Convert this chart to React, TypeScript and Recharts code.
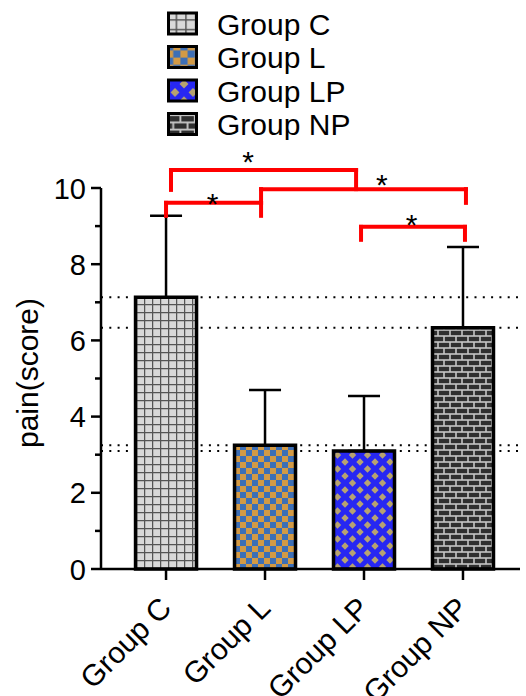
import { BarChart, Bar, Cell, XAxis, YAxis, CartesianGrid, ErrorBar, ReferenceLine, ReferenceDot } from 'recharts'

const FONT = '"Liberation Sans", Arial, sans-serif'

// groups, bar means and upper SD
const GROUPS = ['Group C', 'Group L', 'Group LP', 'Group NP']
const MEANS = [7.13, 3.25, 3.1, 6.33]
const SD = [2.14, 1.45, 1.44, 2.12]
const PATTERNS = ['patC', 'patL', 'patLP', 'patNP']
const Y_TICKS = [0, 1, 2, 3, 4, 5, 6, 7, 8, 9, 10]

// significance brackets in data units: from x1 to x2 at level y, legs down to yl / yr
const BRACKETS = [
  { x1: 0.05, x2: 1.92, y: 10.47, yl: 9.95, yr: 9.97 },
  { x1: 0.96, x2: 3.03, y: 9.97, yl: 9.27, yr: 9.61 },
  { x1: 0.0, x2: 0.96, y: 9.61, yl: 9.27, yr: 9.61 },
  { x1: 1.97, x2: 3.02, y: 8.98, yl: 8.64, yr: 8.64 },
]
const STARS = [
  { x: 0.83, y: 10.86 },
  { x: 2.18, y: 10.26 },
  { x: 0.47, y: 9.76 },
  { x: 2.48, y: 9.21 },
]

const data = GROUPS.map((name, i) => ({ x: i, name, mean: MEANS[i], err: [0, SD[i]] }))

function Patterns({ prefix = '', scale = 1 }: { prefix?: string; scale?: number }) {
  const t = `scale(${scale})`
  return (
    <defs>
      <pattern id={prefix + 'patC'} width={8} height={8} patternUnits="userSpaceOnUse" patternTransform={t}>
        <rect width={8} height={8} fill="#d9d9d9" />
        <path d="M0 0.6H8M0.6 0V8" stroke="#555" strokeWidth={1.3} />
      </pattern>
      <pattern id={prefix + 'patL'} width={12} height={12} patternUnits="userSpaceOnUse" patternTransform={t}>
        <rect width={12} height={12} fill="#d39a45" />
        <rect width={6} height={6} fill="#3d6fb6" />
        <rect x={6} y={6} width={6} height={6} fill="#3d6fb6" />
      </pattern>
      <pattern id={prefix + 'patLP'} width={15} height={14} patternUnits="userSpaceOnUse" patternTransform={t}>
        <rect width={15} height={14} fill="#2727f2" />
        <path d="M7.5 3.3L11.2 7L7.5 10.7L3.8 7Z" fill="#b7a370" />
        <path d="M0 -3.7L3.7 0L0 3.7L-3.7 0Z M15 -3.7L18.7 0L15 3.7L11.3 0Z M0 10.3L3.7 14L0 17.7L-3.7 14Z M15 10.3L18.7 14L15 17.7L11.3 14Z" fill="#b7a370" />
      </pattern>
      <pattern id={prefix + 'patNP'} width={12} height={12} patternUnits="userSpaceOnUse" patternTransform={t}>
        <rect width={12} height={12} fill="#c4c4c4" />
        <rect x={0.8} y={0.8} width={10.4} height={4.4} fill="#2f2f2f" />
        <rect x={-5.2} y={6.8} width={10.4} height={4.4} fill="#2f2f2f" />
        <rect x={6.8} y={6.8} width={10.4} height={4.4} fill="#2f2f2f" />
      </pattern>
    </defs>
  )
}

function YTick(props: any) {
  const { x, y, payload } = props
  const major = payload.value % 2 === 0
  return (
    <g>
      <line x1={x - (major ? 10 : 6)} x2={x} y1={y} y2={y} stroke="#000" strokeWidth={2.5} />
      {major && (
        <text x={x - 15} y={y + 10.5} textAnchor="end" fontSize={29} fontFamily={FONT} fill="#000">
          {payload.value}
        </text>
      )}
    </g>
  )
}

function XTick(props: any) {
  const { x, y, payload } = props
  const lx = x + 7
  const ly = y + 41
  return (
    <g>
      <line x1={x} x2={x} y1={y} y2={y + 11} stroke="#000" strokeWidth={2.5} />
      <text x={lx} y={ly} textAnchor="end" fontSize={30} fontFamily={FONT} fill="#000" transform={`rotate(-45 ${lx} ${ly})`}>
        {GROUPS[payload.value]}
      </text>
    </g>
  )
}

function YLabel() {
  return (
    <text x={27} y={373} transform="rotate(-90 27 373)" textAnchor="middle" dominantBaseline="central" fontSize={30} fontFamily={FONT} fill="#000">
      pain(score)
    </text>
  )
}

function Star(props: any) {
  const { cx, cy } = props
  return (
    <text x={cx} y={cy + 17} textAnchor="middle" fontSize={30} fontFamily={FONT} fill="#000">
      *
    </text>
  )
}

function LegendBox() {
  return (
    <svg width={230} height={140} style={{ position: 'absolute', left: 166, top: 0 }}>
      <Patterns prefix="lg" scale={1.2} />
      {GROUPS.map((g, i) => {
        const cy = 23.5 + i * 33.5
        return (
          <g key={g}>
            <rect x={2.5} y={cy - 10.5} width={28} height={21} fill={`url(#lg${PATTERNS[i]})`} stroke="#000" strokeWidth={3} />
            <text x={51} y={cy + 11} fontSize={30} fontFamily={FONT} fill="#000">
              {g}
            </text>
          </g>
        )
      })}
    </svg>
  )
}

export default function App() {
  return (
    <div style={{ position: 'absolute', left: 0, top: 0, width: 526, height: 696, background: '#fff', overflow: 'hidden' }}>
      <BarChart width={526} height={696} data={data} margin={{ top: 188, right: 6, bottom: 0, left: 0 }}>
        <Patterns />
        <CartesianGrid vertical={false} horizontalValues={MEANS} stroke="#000" strokeWidth={2} strokeDasharray="2 6.3" />
        <XAxis
          type="number"
          dataKey="x"
          domain={[-0.657, 3.576]}
          ticks={[0, 1, 2, 3]}
          allowDataOverflow
          height={127}
          tickSize={0}
          tickMargin={0}
          tickLine={false}
          tick={<XTick />}
          axisLine={{ stroke: '#000', strokeWidth: 2.5 }}
          interval={0}
        />
        <YAxis
          type="number"
          domain={[0, 10]}
          ticks={Y_TICKS}
          width={101}
          tickSize={0}
          tickMargin={0}
          tickLine={false}
          tick={<YTick />}
          axisLine={{ stroke: '#000', strokeWidth: 2.5 }}
          interval={0}
          label={<YLabel />}
        />
        <Bar dataKey="mean" barSize={61} stroke="#000" strokeWidth={3.5} isAnimationActive={false}>
          {data.map((d, i) => (
            <Cell key={d.name} fill={`url(#${PATTERNS[i]})`} />
          ))}
          <ErrorBar dataKey="err" direction="y" width={16} stroke="#000" strokeWidth={2.5} isAnimationActive={false} />
        </Bar>
        {BRACKETS.flatMap((b, i) => [
          <ReferenceLine key={`h${i}`} segment={[{ x: b.x1, y: b.y }, { x: b.x2, y: b.y }]} stroke="#ff0000" strokeWidth={4} strokeLinecap="square" ifOverflow="visible" />,
          <ReferenceLine key={`l${i}`} segment={[{ x: b.x1, y: b.y }, { x: b.x1, y: b.yl }]} stroke="#ff0000" strokeWidth={4} strokeLinecap="square" ifOverflow="visible" />,
          <ReferenceLine key={`r${i}`} segment={[{ x: b.x2, y: b.y }, { x: b.x2, y: b.yr }]} stroke="#ff0000" strokeWidth={4} strokeLinecap="square" ifOverflow="visible" />,
        ])}
        {STARS.map((s, i) => (
          <ReferenceDot key={`s${i}`} x={s.x} y={s.y} r={0} ifOverflow="visible" shape={<Star />} />
        ))}
      </BarChart>
      <LegendBox />
    </div>
  )
}
